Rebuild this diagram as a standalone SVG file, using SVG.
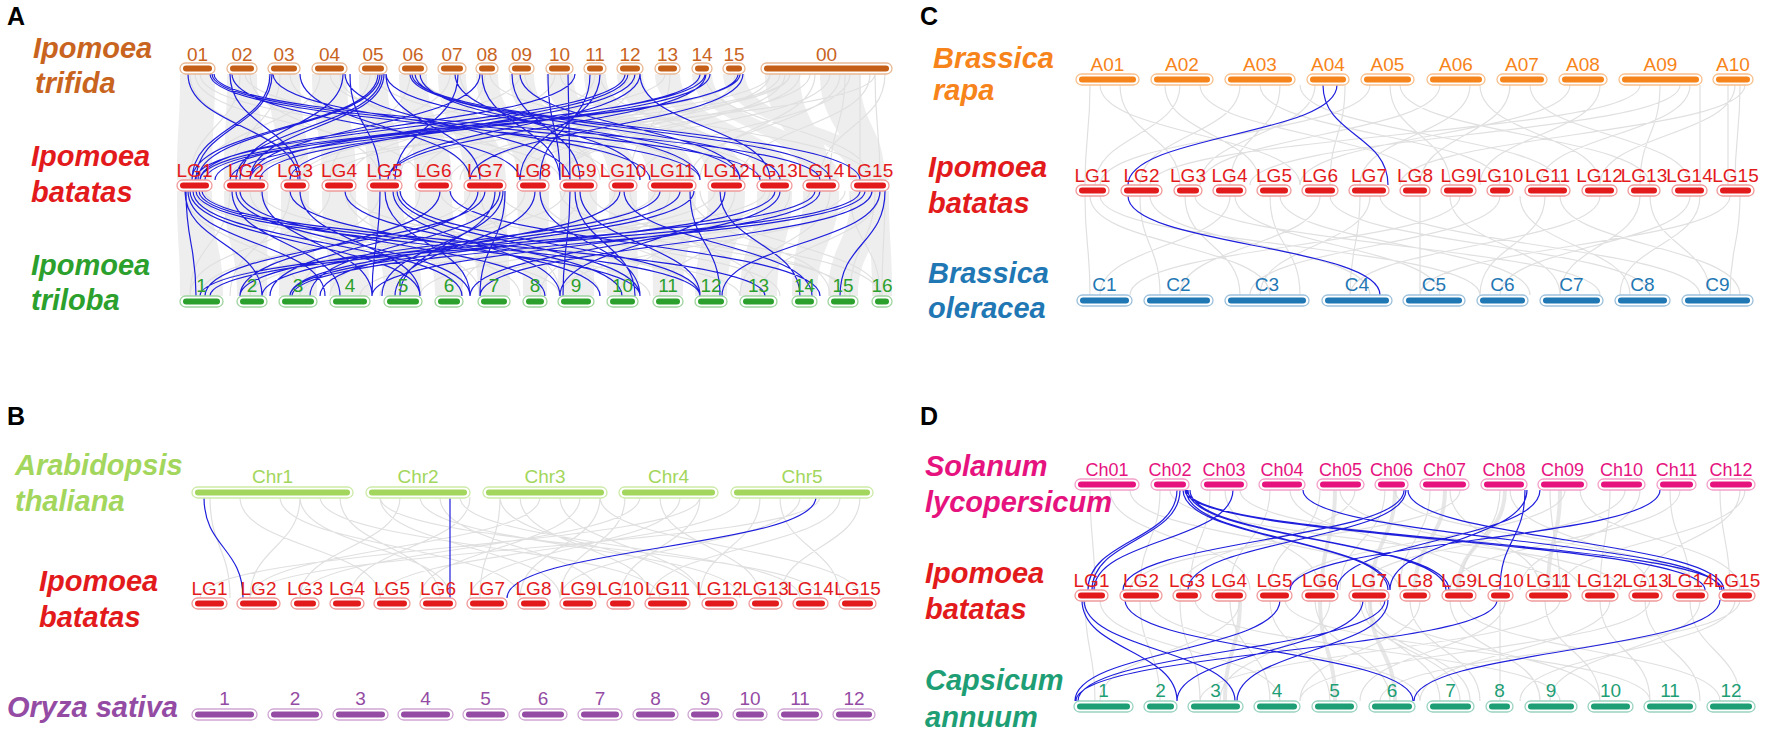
<svg xmlns="http://www.w3.org/2000/svg" width="1772" height="740" viewBox="0 0 1772 740">
<style>
.sp{font-family:"Liberation Sans",Arial,sans-serif;font-size:29px;font-weight:bold;font-style:italic}
.lb{font-family:"Liberation Sans",Arial,sans-serif;font-size:19px;text-anchor:middle}
.lc{font-family:"Liberation Sans",Arial,sans-serif;font-size:18px;text-anchor:middle}
.ttl{font-family:"Liberation Sans",Arial,sans-serif;font-size:25px;font-weight:bold;fill:#000}
.gl{fill:none;stroke:#E0E0E0;stroke-width:1.2}
.gt{fill:none;stroke:#DDDDDD;stroke-width:4;opacity:.7}
.rb{fill:#EEEEEE;stroke:none}
.bl{fill:none;stroke:#1E1EDC;stroke-width:1.2}
.o{fill:#fff;stroke-width:1.3}
.ot{stroke:#E9B893}.it{fill:#C55F17}.ct{fill:#C8641E}
.ob{stroke:#F09A9B}.ib{fill:#E31A1C}.cb{fill:#E31A1C}
.ol{stroke:#9FD49F}.il{fill:#2CA02C}.cl{fill:#2CA02C}
.or{stroke:#F9C08C}.ir{fill:#F7841A}.cr{fill:#F7841A}
.oe{stroke:#9DC1DC}.ie{fill:#1F77B4}.ce{fill:#1F77B4}
.oa{stroke:#CDEBA8}.ia{fill:#A3D65C}.ca{fill:#A3D65C}
.oy{stroke:#CFA6D3}.iy{fill:#944BA3}.cy{fill:#944BA3}
.os{stroke:#F2A0C8}.is{fill:#E6137F}.cs{fill:#E6137F}
.oc{stroke:#9AD3C0}.ic{fill:#1E9E74}.cc{fill:#1E9E74}
</style>
<rect width="1772" height="740" fill="#fff"/>

<g id="connectors">
<!-- Panel A gray ribbons top -->
<path class="rb" d="M180 74C180 127 177 127 177 180L212 180C212 127 215 127 215 74Z M227 74C227 127 224 127 224 180L268 180C268 127 257 127 257 74Z M268 74C268 127 281 127 281 180L309 180C309 127 300 127 300 74Z M312 74C312 127 322 127 322 180L356 180C356 127 347 127 347 74Z M359 74C359 127 367 127 367 180L402 180C402 127 387 127 387 74Z M399 74C399 127 415 127 415 180L452 180C452 127 427 127 427 74Z M438 74C438 127 464 127 464 180L506 180C506 127 466 127 466 74Z M476 74C476 127 517 127 517 180L549 180C549 127 498 127 498 74Z M509 74C509 127 560 127 560 180L597 180C597 127 534 127 534 74Z M546 74C546 127 609 127 609 180L637 180C637 127 573 127 573 74Z M584 74C584 127 648 127 648 180L696 180C696 127 606 127 606 74Z M617 74C617 127 708 127 708 180L745 180C745 127 643 127 643 74Z M655 74C655 127 757 127 757 180L792 180C792 127 680 127 680 74Z M692 74C692 127 803 127 803 180L839 180C839 127 712 127 712 74Z M723 74C723 127 851 127 851 180L889 180C889 127 745 127 745 74Z M765 74C765 127 800 127 800 180L830 180C830 127 800 127 800 74Z M820 74C820 127 850 127 850 180L885 180C885 127 860 127 860 74Z"/>
<path class="rb" d="M177 191C177 243.5 180 243.5 180 296L223 296C223 243.5 212 243.5 212 191Z M224 191C224 243.5 237 243.5 237 296L267 296C267 243.5 268 243.5 268 191Z M281 191C281 243.5 279 243.5 279 296L317 296C317 243.5 309 243.5 309 191Z M322 191C322 243.5 330 243.5 330 296L370 296C370 243.5 356 243.5 356 191Z M367 191C367 243.5 384 243.5 384 296L422 296C422 243.5 402 243.5 402 191Z M415 191C415 243.5 435 243.5 435 296L463 296C463 243.5 452 243.5 452 191Z M464 191C464 243.5 478 243.5 478 296L510 296C510 243.5 506 243.5 506 191Z M517 191C517 243.5 523 243.5 523 296L547 296C547 243.5 549 243.5 549 191Z M560 191C560 243.5 558 243.5 558 296L594 296C594 243.5 597 243.5 597 191Z M609 191C609 243.5 607 243.5 607 296L638 296C638 243.5 637 243.5 637 191Z M648 191C648 243.5 653 243.5 653 296L683 296C683 243.5 696 243.5 696 191Z M708 191C708 243.5 695 243.5 695 296L727 296C727 243.5 745 243.5 745 191Z M757 191C757 243.5 740 243.5 740 296L777 296C777 243.5 792 243.5 792 191Z M803 191C803 243.5 792 243.5 792 296L817 296C817 243.5 839 243.5 839 191Z M851 191C851 243.5 828 243.5 828 296L858 296C858 243.5 889 243.5 889 191Z M868 191C868 243.5 872 243.5 872 296L892 296C892 243.5 889 243.5 889 191Z"/>
<!-- Panel A gray lines -->
<path class="gl" d="M190 74C190 127 300 127 300 180M195 74C195 127 420 127 420 180M200 74C200 127 560 127 560 180M240 74C240 127 190 127 190 180M245 74C245 127 650 127 650 180M250 74C250 127 380 127 380 180M280 74C280 127 230 127 230 180M290 74C290 127 470 127 470 180M320 74C320 127 200 127 200 180M330 74C330 127 610 127 610 180M340 74C340 127 530 127 530 180M370 74C370 127 250 127 250 180M375 74C375 127 700 127 700 180M410 74C410 127 330 127 330 180M420 74C420 127 760 127 760 180M450 74C450 127 290 127 290 180M460 74C460 127 600 127 600 180M485 74C485 127 400 127 400 180M490 74C490 127 820 127 820 180M520 74C520 127 230 127 230 180M525 74C525 127 680 127 680 180M555 74C555 127 350 127 350 180M560 74C560 127 870 127 870 180M595 74C595 127 420 127 420 180M600 74C600 127 770 127 770 180M630 74C630 127 300 127 300 180M635 74C635 127 520 127 520 180M665 74C665 127 200 127 200 180M670 74C670 127 630 127 630 180M700 74C700 127 460 127 460 180M705 74C705 127 870 127 870 180M735 74C735 127 560 127 560 180M740 74C740 127 250 127 250 180M770 74C770 127 200 127 200 180M790 74C790 127 330 127 330 180M810 74C810 127 450 127 450 180M830 74C830 127 560 127 560 180M850 74C850 127 640 127 640 180M870 74C870 127 740 127 740 180M885 74C885 127 820 127 820 180M780 74C780 127 390 127 390 180M800 74C800 127 520 127 520 180M840 74C840 127 690 127 690 180M860 74C860 127 860 127 860 180M875 74C875 127 300 127 300 180M770 74C770 127 470 127 470 180M785 74C785 127 560 127 560 180M815 74C815 127 700 127 700 180M845 74C845 127 830 127 830 180M875 74C875 127 880 127 880 180M790 74C790 127 250 127 250 180"/>
<path class="gl" d="M185 191C185 243.5 300 243.5 300 296M195 191C195 243.5 560 243.5 560 296M205 191C205 243.5 740 243.5 740 296M230 191C230 243.5 190 243.5 190 296M250 191C250 243.5 420 243.5 420 296M260 191C260 243.5 650 243.5 650 296M290 191C290 243.5 230 243.5 230 296M300 191C300 243.5 520 243.5 520 296M330 191C330 243.5 190 243.5 190 296M345 191C345 243.5 480 243.5 480 296M350 191C350 243.5 700 243.5 700 296M380 191C380 243.5 250 243.5 250 296M395 191C395 243.5 600 243.5 600 296M420 191C420 243.5 300 243.5 300 296M440 191C440 243.5 780 243.5 780 296M470 191C470 243.5 200 243.5 200 296M480 191C480 243.5 560 243.5 560 296M500 191C500 243.5 850 243.5 850 296M525 191C525 243.5 330 243.5 330 296M540 191C540 243.5 700 243.5 700 296M565 191C565 243.5 240 243.5 240 296M580 191C580 243.5 460 243.5 460 296M590 191C590 243.5 880 243.5 880 296M615 191C615 243.5 380 243.5 380 296M630 191C630 243.5 760 243.5 760 296M655 191C655 243.5 250 243.5 250 296M670 191C670 243.5 540 243.5 540 296M690 191C690 243.5 830 243.5 830 296M715 191C715 243.5 300 243.5 300 296M735 191C735 243.5 620 243.5 620 296M765 191C765 243.5 200 243.5 200 296M770 191C770 243.5 480 243.5 480 296M790 191C790 243.5 660 243.5 660 296M810 191C810 243.5 360 243.5 360 296M830 191C830 243.5 740 243.5 740 296M850 191C850 243.5 880 243.5 880 296M860 191C860 243.5 560 243.5 560 296M875 191C875 243.5 850 243.5 850 296M885 191C885 243.5 882 243.5 882 296M880 191C880 243.5 760 243.5 760 296M845 191C845 243.5 420 243.5 420 296M700 191C700 243.5 880 243.5 880 296M560 191C560 243.5 845 243.5 845 296"/>
<!-- Panel C gray -->
<path class="gl" d="M1090 85C1090 135 1085 135 1085 185M1100 85C1100 135 1300 135 1300 185M1120 85C1120 135 1180 135 1180 185M1165 85C1165 135 1260 135 1260 185M1180 85C1180 135 1095 135 1095 185M1200 85C1200 135 1420 135 1420 185M1240 85C1240 135 1140 135 1140 185M1260 85C1260 135 1500 135 1500 185M1280 85C1280 135 1230 135 1230 185M1300 85C1300 135 1560 135 1560 185M1315 85C1315 135 1200 135 1200 185M1345 85C1345 135 1330 135 1330 185M1370 85C1370 135 1100 135 1100 185M1390 85C1390 135 1450 135 1450 185M1400 85C1400 135 1650 135 1650 185M1440 85C1440 135 1200 135 1200 185M1470 85C1470 135 1360 135 1360 185M1480 85C1480 135 1600 135 1600 185M1510 85C1510 135 1420 135 1420 185M1530 85C1530 135 1690 135 1690 185M1570 85C1570 135 1300 135 1300 185M1600 85C1600 135 1480 135 1480 185M1640 85C1640 135 1150 135 1150 185M1660 85C1660 135 1640 135 1640 185M1680 85C1680 135 1250 135 1250 185M1690 85C1690 135 1540 135 1540 185M1700 85C1700 135 1700 135 1700 185M1735 85C1735 135 1600 135 1600 185M1740 85C1740 135 1735 135 1735 185M1745 85C1745 135 1400 135 1400 185M1728 85L1728 185"/>
<path class="gl" d="M1085 196C1085 245.5 1090 245.5 1090 295M1090 196C1090 245.5 1270 245.5 1270 295M1100 196C1100 245.5 1480 245.5 1480 295M1140 196C1140 245.5 1160 245.5 1160 295M1150 196C1150 245.5 1370 245.5 1370 295M1185 196C1185 245.5 1240 245.5 1240 295M1195 196C1195 245.5 1600 245.5 1600 295M1230 196C1230 245.5 1100 245.5 1100 295M1235 196C1235 245.5 1440 245.5 1440 295M1270 196C1270 245.5 1300 245.5 1300 295M1280 196C1280 245.5 1530 245.5 1530 295M1320 196C1320 245.5 1180 245.5 1180 295M1330 196C1330 245.5 1650 245.5 1650 295M1360 196C1360 245.5 1350 245.5 1350 295M1370 196C1370 245.5 1260 245.5 1260 295M1380 196C1380 245.5 1700 245.5 1700 295M1420 196C1420 245.5 1420 245.5 1420 295M1450 196C1450 245.5 1560 245.5 1560 295M1460 196C1460 245.5 1130 245.5 1130 295M1500 196C1500 245.5 1250 245.5 1250 295M1520 196C1520 245.5 1630 245.5 1630 295M1545 196C1545 245.5 1480 245.5 1480 295M1560 196C1560 245.5 1740 245.5 1740 295M1600 196C1600 245.5 1350 245.5 1350 295M1640 196C1640 245.5 1560 245.5 1560 295M1650 196C1650 245.5 1710 245.5 1710 295M1690 196C1690 245.5 1500 245.5 1500 295M1700 196C1700 245.5 1620 245.5 1620 295M1730 196C1730 245.5 1420 245.5 1420 295M1740 196C1740 245.5 1730 245.5 1730 295"/>
<!-- Panel B gray -->
<path class="gl" d="M210 497C210 547.5 230 547.5 230 598M240 497C240 547.5 380 547.5 380 598M280 497C280 547.5 520 547.5 520 598M300 497C300 547.5 250 547.5 250 598M320 497C320 547.5 660 547.5 660 598M340 497C340 547.5 440 547.5 440 598M380 497C380 547.5 560 547.5 560 598M400 497C400 547.5 300 547.5 300 598M420 497C420 547.5 740 547.5 740 598M440 497C440 547.5 600 547.5 600 598M460 497C460 547.5 800 547.5 800 598M470 497C470 547.5 350 547.5 350 598M500 497C500 547.5 480 547.5 480 598M520 497C520 547.5 650 547.5 650 598M540 497C540 547.5 250 547.5 250 598M560 497C560 547.5 700 547.5 700 598M580 497C580 547.5 420 547.5 420 598M600 497C600 547.5 860 547.5 860 598M625 497C625 547.5 560 547.5 560 598M640 497C640 547.5 300 547.5 300 598M660 497C660 547.5 760 547.5 760 598M680 497C680 547.5 470 547.5 470 598M700 497C700 547.5 620 547.5 620 598M740 497C740 547.5 380 547.5 380 598M760 497C760 547.5 700 547.5 700 598M780 497C780 547.5 840 547.5 840 598M800 497C800 547.5 560 547.5 560 598M820 497C820 547.5 250 547.5 250 598M840 497C840 547.5 650 547.5 650 598M860 497C860 547.5 780 547.5 780 598M600 497C600 547.5 520 547.5 520 598M500 497C500 547.5 700 547.5 700 598M380 497C380 547.5 820 547.5 820 598M300 497C300 547.5 450 547.5 450 598M700 497C700 547.5 200 547.5 200 598"/>
<!-- Panel D gray -->
<path class="gl" d="M1090 490C1090 540 1095 540 1095 590M1110 490C1110 540 1250 540 1250 590M1130 490C1130 540 1400 540 1400 590M1160 490C1160 540 1140 540 1140 590M1170 490C1170 540 1560 540 1560 590M1210 490C1210 540 1190 540 1190 590M1225 490C1225 540 1320 540 1320 590M1240 490C1240 540 1620 540 1620 590M1270 490C1270 540 1230 540 1230 590M1290 490C1290 540 1480 540 1480 590M1320 490C1320 540 1270 540 1270 590M1340 490C1340 540 1580 540 1580 590M1355 490C1355 540 1180 540 1180 590M1385 490C1385 540 1340 540 1340 590M1395 490C1395 540 1700 540 1700 590M1430 490C1430 540 1400 540 1400 590M1450 490C1450 540 1540 540 1540 590M1460 490C1460 540 1130 540 1130 590M1500 490C1500 540 1460 540 1460 590M1510 490C1510 540 1650 540 1650 590M1550 490C1550 540 1560 540 1560 590M1565 490C1565 540 1290 540 1290 590M1580 490C1580 540 1740 540 1740 590M1610 490C1610 540 1600 540 1600 590M1625 490C1625 540 1360 540 1360 590M1640 490C1640 540 1520 540 1520 590M1670 490C1670 540 1690 540 1690 590M1680 490C1680 540 1450 540 1450 590M1720 490C1720 540 1730 540 1730 590M1740 490C1740 540 1640 540 1640 590M1745 490C1745 540 1560 540 1560 590"/>
<path class="gt" d="M1335 490C1335 540 1322 540 1322 590M1395 490C1395 540 1372 540 1372 590M1445 490C1445 540 1415 540 1415 590M1505 490C1505 540 1458 540 1458 590M1560 490C1560 540 1548 540 1548 590"/>
<path class="gl" d="M1085 600C1085 650.5 1095 650.5 1095 701M1100 600C1100 650.5 1280 650.5 1280 701M1140 600C1140 650.5 1160 650.5 1160 701M1150 600C1150 650.5 1420 650.5 1420 701M1180 600C1180 650.5 1200 650.5 1200 701M1195 600C1195 650.5 1560 650.5 1560 701M1230 600C1230 650.5 1270 650.5 1270 701M1240 600C1240 650.5 1100 650.5 1100 701M1270 600C1270 650.5 1330 650.5 1330 701M1285 600C1285 650.5 1650 650.5 1650 701M1315 600C1315 650.5 1390 650.5 1390 701M1330 600C1330 650.5 1220 650.5 1220 701M1370 600C1370 650.5 1440 650.5 1440 701M1380 600C1380 650.5 1600 650.5 1600 701M1410 600C1410 650.5 1480 650.5 1480 701M1420 600C1420 650.5 1300 650.5 1300 701M1450 600C1450 650.5 1540 650.5 1540 701M1460 600C1460 650.5 1720 650.5 1720 701M1500 600C1500 650.5 1500 650.5 1500 701M1505 600C1505 650.5 1360 650.5 1360 701M1545 600C1545 650.5 1600 650.5 1600 701M1560 600C1560 650.5 1200 650.5 1200 701M1600 600C1600 650.5 1650 650.5 1650 701M1610 600C1610 650.5 1420 650.5 1420 701M1645 600C1645 650.5 1700 650.5 1700 701M1650 600C1650 650.5 1300 650.5 1300 701M1690 600C1690 650.5 1740 650.5 1740 701M1700 600C1700 650.5 1550 650.5 1550 701M1735 600C1735 650.5 1520 650.5 1520 701M1740 600C1740 650.5 1380 650.5 1380 701M1360 600C1360 650.5 1460 650.5 1460 701M1365 600C1365 650.5 1470 650.5 1470 701"/>
<path class="gt" d="M1240 600C1240 650.5 1225 650.5 1225 701M1320 600C1320 650.5 1335 650.5 1335 701M1370 600C1370 650.5 1395 650.5 1395 701"/>

<!-- Panel A blue -->
<path class="bl" d="M188 74C188 127 298 127 298 180M210 74C210 127 700 127 700 180M212 74C212 127 760 127 760 180M214 74C214 127 820 127 820 180M230 74C230 127 300 127 300 180M232 74C232 127 520 127 520 180M270 74C270 127 192 127 192 180M272 74C272 127 196 127 196 180M273 74C273 127 650 127 650 180M300 74C300 127 470 127 470 180M343 74C343 127 240 127 240 180M345 74C345 127 570 127 570 180M350 74C350 127 380 127 380 180M378 74C378 127 192 127 192 180M380 74C380 127 198 127 198 180M382 74C382 127 236 127 236 180M384 74C384 127 250 127 250 180M386 74C386 127 480 127 480 180M386 74C386 127 740 127 740 180M410 74C410 127 830 127 830 180M412 74C412 127 860 127 860 180M415 74C415 127 780 127 780 180M420 74C420 127 700 127 700 180M455 74C455 127 640 127 640 180M458 74C458 127 395 127 395 180M480 74C480 127 250 127 250 180M482 74C482 127 560 127 560 180M512 74C512 127 580 127 580 180M520 74C520 127 740 127 740 180M548 74C548 127 560 127 560 180M568 74L570 180M575 74C575 127 200 127 200 180M590 74C590 127 540 127 540 180M600 74C600 127 520 127 520 180M625 74C625 127 195 127 195 180M628 74C628 127 250 127 250 180M635 74C635 127 290 127 290 180M640 74C640 127 770 127 770 180M640 74C640 127 388 127 388 180M700 74C700 127 215 127 215 180M705 74C705 127 200 127 200 180M706 74C706 127 388 127 388 180M710 74C710 127 260 127 260 180M738 74C738 127 230 127 230 180M740 74C740 127 205 127 205 180M743 74C743 127 470 127 470 180"/>
<path class="bl" d="M185 191C185 243.5 262 243.5 262 296M188 191C188 243.5 325 243.5 325 296M190 191C190 243.5 420 243.5 420 296M193 191C193 243.5 462 243.5 462 296M196 191C196 243.5 640 243.5 640 296M199 191C199 243.5 700 243.5 700 296M202 191C202 243.5 765 243.5 765 296M186 191C186 243.5 196 243.5 196 296M232 191C232 243.5 340 243.5 340 296M236 191C236 243.5 470 243.5 470 296M240 191C240 243.5 545 243.5 545 296M262 191C262 243.5 372 243.5 372 296M290 191C290 243.5 600 243.5 600 296M300 191C300 243.5 420 243.5 420 296M345 191C345 243.5 622 243.5 622 296M380 191C380 243.5 372 243.5 372 296M385 191C385 243.5 470 243.5 470 296M393 191C393 243.5 560 243.5 560 296M397 191C397 243.5 640 243.5 640 296M400 191C400 243.5 700 243.5 700 296M440 191C440 243.5 240 243.5 240 296M450 191C450 243.5 820 243.5 820 296M478 191C478 243.5 270 243.5 270 296M485 191C485 243.5 205 243.5 205 296M495 191C495 243.5 400 243.5 400 296M500 191C500 243.5 310 243.5 310 296M503 191C503 243.5 382 243.5 382 296M505 191C505 243.5 480 243.5 480 296M535 191C535 243.5 395 243.5 395 296M540 191C540 243.5 640 243.5 640 296M570 191C570 243.5 563 243.5 563 296M575 191C575 243.5 635 243.5 635 296M580 191C580 243.5 700 243.5 700 296M620 191C620 243.5 320 243.5 320 296M624 191C624 243.5 812 243.5 812 296M660 191C660 243.5 240 243.5 240 296M680 191C680 243.5 262 243.5 262 296M690 191C690 243.5 720 243.5 720 296M694 191C694 243.5 290 243.5 290 296M720 191C720 243.5 800 243.5 800 296M725 191C725 243.5 560 243.5 560 296M775 191C775 243.5 290 243.5 290 296M780 191C780 243.5 470 243.5 470 296M815 191C815 243.5 200 243.5 200 296M820 191C820 243.5 372 243.5 372 296M860 191C860 243.5 210 243.5 210 296M865 191C865 243.5 292 243.5 292 296M872 191C872 243.5 480 243.5 480 296M880 191C880 243.5 722 243.5 722 296M885 191C885 243.5 840 243.5 840 296"/>
<!-- Panel C blue -->
<path class="bl" d="M1337 85C1337 135 1128 135 1128 185M1323 85C1323 135 1388 135 1388 185M1128 196C1128 245.5 1380 245.5 1380 295"/>
<!-- Panel B blue -->
<path class="bl" d="M204 497C204 547.5 243 547.5 243 598M450 497L450 598M816 497C816 547.5 507 547.5 507 598"/>
<!-- Panel D blue -->
<path class="bl" d="M1177 490C1177 540 1088 540 1088 590M1180 490C1180 540 1092 540 1092 590M1233 490C1233 540 1094 540 1094 590M1183 490C1183 540 1388 540 1388 590M1186 490C1186 540 1390 540 1390 590M1188 490C1188 540 1446 540 1446 590M1190 490C1190 540 1449 540 1449 590M1185 490C1185 540 1705 540 1705 590M1187 490C1187 540 1722 540 1722 590M1303 490C1303 540 1720 540 1720 590M1404 490C1404 540 1123 540 1123 590M1406 490C1406 540 1188 540 1188 590M1408 490C1408 540 1724 540 1724 590M1527 490C1527 540 1390 540 1390 590M1525 490C1525 540 1500 540 1500 590M1540 490C1540 540 1337 540 1337 590M1660 490C1660 540 1290 540 1290 590"/>
<path class="bl" d="M1082 600C1082 650.5 1177 650.5 1177 701M1084 600C1084 650.5 1235 650.5 1235 701M1125 600C1125 650.5 1413 650.5 1413 701M1280 600C1280 650.5 1075 650.5 1075 701M1363 600C1363 650.5 1177 650.5 1177 701M1388 600C1388 650.5 1237 650.5 1237 701M1385 600C1385 650.5 1078 650.5 1078 701M1497 600C1497 650.5 1076 650.5 1076 701M1720 600C1720 650.5 1414 650.5 1414 701"/>
</g>

<!-- Titles and species labels -->
<g id="titles">
<text class="ttl" x="7" y="25">A</text>
<text class="ttl" x="920" y="25">C</text>
<text class="ttl" x="7" y="425">B</text>
<text class="ttl" x="920" y="425">D</text>
</g>
<g id="species">
<text class="sp" fill="#C8641E" x="33" y="58">Ipomoea</text>
<text class="sp" fill="#C8641E" x="35" y="93">trifida</text>
<text class="sp" fill="#E31A1C" x="31" y="166">Ipomoea</text>
<text class="sp" fill="#E31A1C" x="31" y="202">batatas</text>
<text class="sp" fill="#2CA02C" x="31" y="275">Ipomoea</text>
<text class="sp" fill="#2CA02C" x="31" y="310">triloba</text>
<text class="sp" fill="#F7841A" x="933" y="68">Brassica</text>
<text class="sp" fill="#F7841A" x="933" y="100">rapa</text>
<text class="sp" fill="#E31A1C" x="928" y="177">Ipomoea</text>
<text class="sp" fill="#E31A1C" x="928" y="213">batatas</text>
<text class="sp" fill="#1F77B4" x="928" y="283">Brassica</text>
<text class="sp" fill="#1F77B4" x="928" y="318">oleracea</text>
<text class="sp" fill="#A3D65C" x="15" y="475">Arabidopsis</text>
<text class="sp" fill="#A3D65C" x="15" y="511">thaliana</text>
<text class="sp" fill="#E31A1C" x="39" y="591">Ipomoea</text>
<text class="sp" fill="#E31A1C" x="39" y="627">batatas</text>
<text class="sp" fill="#944BA3" x="7" y="717">Oryza sativa</text>
<text class="sp" fill="#E6137F" x="925" y="476">Solanum</text>
<text class="sp" fill="#E6137F" x="925" y="512">lycopersicum</text>
<text class="sp" fill="#E31A1C" x="925" y="583">Ipomoea</text>
<text class="sp" fill="#E31A1C" x="925" y="619">batatas</text>
<text class="sp" fill="#1E9E74" x="925" y="690">Capsicum</text>
<text class="sp" fill="#1E9E74" x="925" y="727">annuum</text>
</g>

<!-- Panel A: trifida -->
<g id="A-tf-01"><rect class="o ot" x="180" y="63" width="35" height="11" rx="5.5"/><rect class="it" x="183" y="65.5" width="29" height="6" rx="3"/><text class="lb ct" x="197.5" y="61">01</text></g>
<g id="A-tf-02"><rect class="o ot" x="227" y="63" width="30" height="11" rx="5.5"/><rect class="it" x="230" y="65.5" width="24" height="6" rx="3"/><text class="lb ct" x="242" y="61">02</text></g>
<g id="A-tf-03"><rect class="o ot" x="268" y="63" width="32" height="11" rx="5.5"/><rect class="it" x="271" y="65.5" width="26" height="6" rx="3"/><text class="lb ct" x="284" y="61">03</text></g>
<g id="A-tf-04"><rect class="o ot" x="312" y="63" width="35" height="11" rx="5.5"/><rect class="it" x="315" y="65.5" width="29" height="6" rx="3"/><text class="lb ct" x="329.5" y="61">04</text></g>
<g id="A-tf-05"><rect class="o ot" x="359" y="63" width="28" height="11" rx="5.5"/><rect class="it" x="362" y="65.5" width="22" height="6" rx="3"/><text class="lb ct" x="373" y="61">05</text></g>
<g id="A-tf-06"><rect class="o ot" x="399" y="63" width="28" height="11" rx="5.5"/><rect class="it" x="402" y="65.5" width="22" height="6" rx="3"/><text class="lb ct" x="413" y="61">06</text></g>
<g id="A-tf-07"><rect class="o ot" x="438" y="63" width="28" height="11" rx="5.5"/><rect class="it" x="441" y="65.5" width="22" height="6" rx="3"/><text class="lb ct" x="452" y="61">07</text></g>
<g id="A-tf-08"><rect class="o ot" x="476" y="63" width="22" height="11" rx="5.5"/><rect class="it" x="479" y="65.5" width="16" height="6" rx="3"/><text class="lb ct" x="487" y="61">08</text></g>
<g id="A-tf-09"><rect class="o ot" x="509" y="63" width="25" height="11" rx="5.5"/><rect class="it" x="512" y="65.5" width="19" height="6" rx="3"/><text class="lb ct" x="521.5" y="61">09</text></g>
<g id="A-tf-10"><rect class="o ot" x="546" y="63" width="27" height="11" rx="5.5"/><rect class="it" x="549" y="65.5" width="21" height="6" rx="3"/><text class="lb ct" x="559.5" y="61">10</text></g>
<g id="A-tf-11"><rect class="o ot" x="584" y="63" width="22" height="11" rx="5.5"/><rect class="it" x="587" y="65.5" width="16" height="6" rx="3"/><text class="lb ct" x="595" y="61">11</text></g>
<g id="A-tf-12"><rect class="o ot" x="617" y="63" width="26" height="11" rx="5.5"/><rect class="it" x="620" y="65.5" width="20" height="6" rx="3"/><text class="lb ct" x="630" y="61">12</text></g>
<g id="A-tf-13"><rect class="o ot" x="655" y="63" width="25" height="11" rx="5.5"/><rect class="it" x="658" y="65.5" width="19" height="6" rx="3"/><text class="lb ct" x="667.5" y="61">13</text></g>
<g id="A-tf-14"><rect class="o ot" x="692" y="63" width="20" height="11" rx="5.5"/><rect class="it" x="695" y="65.5" width="14" height="6" rx="3"/><text class="lb ct" x="702" y="61">14</text></g>
<g id="A-tf-15"><rect class="o ot" x="723" y="63" width="22" height="11" rx="5.5"/><rect class="it" x="726" y="65.5" width="16" height="6" rx="3"/><text class="lb ct" x="734" y="61">15</text></g>
<g id="A-tf-00"><rect class="o ot" x="761" y="63" width="131" height="11" rx="5.5"/><rect class="it" x="764" y="65.5" width="125" height="6" rx="3"/><text class="lb ct" x="826.5" y="61">00</text></g>

<!-- Panel A: batatas -->
<g id="A-bt-LG1"><rect class="o ob" x="177" y="180" width="35" height="11" rx="5.5"/><rect class="ib" x="180" y="182.5" width="29" height="6" rx="3"/><text class="lb cb" x="194.5" y="177">LG1</text></g>
<g id="A-bt-LG2"><rect class="o ob" x="224" y="180" width="44" height="11" rx="5.5"/><rect class="ib" x="227" y="182.5" width="38" height="6" rx="3"/><text class="lb cb" x="246" y="177">LG2</text></g>
<g id="A-bt-LG3"><rect class="o ob" x="281" y="180" width="28" height="11" rx="5.5"/><rect class="ib" x="284" y="182.5" width="22" height="6" rx="3"/><text class="lb cb" x="295" y="177">LG3</text></g>
<g id="A-bt-LG4"><rect class="o ob" x="322" y="180" width="34" height="11" rx="5.5"/><rect class="ib" x="325" y="182.5" width="28" height="6" rx="3"/><text class="lb cb" x="339" y="177">LG4</text></g>
<g id="A-bt-LG5"><rect class="o ob" x="367" y="180" width="35" height="11" rx="5.5"/><rect class="ib" x="370" y="182.5" width="29" height="6" rx="3"/><text class="lb cb" x="384.5" y="177">LG5</text></g>
<g id="A-bt-LG6"><rect class="o ob" x="415" y="180" width="37" height="11" rx="5.5"/><rect class="ib" x="418" y="182.5" width="31" height="6" rx="3"/><text class="lb cb" x="433.5" y="177">LG6</text></g>
<g id="A-bt-LG7"><rect class="o ob" x="464" y="180" width="42" height="11" rx="5.5"/><rect class="ib" x="467" y="182.5" width="36" height="6" rx="3"/><text class="lb cb" x="485" y="177">LG7</text></g>
<g id="A-bt-LG8"><rect class="o ob" x="517" y="180" width="32" height="11" rx="5.5"/><rect class="ib" x="520" y="182.5" width="26" height="6" rx="3"/><text class="lb cb" x="533" y="177">LG8</text></g>
<g id="A-bt-LG9"><rect class="o ob" x="560" y="180" width="37" height="11" rx="5.5"/><rect class="ib" x="563" y="182.5" width="31" height="6" rx="3"/><text class="lb cb" x="578.5" y="177">LG9</text></g>
<g id="A-bt-LG10"><rect class="o ob" x="609" y="180" width="28" height="11" rx="5.5"/><rect class="ib" x="612" y="182.5" width="22" height="6" rx="3"/><text class="lb cb" x="623" y="177">LG10</text></g>
<g id="A-bt-LG11"><rect class="o ob" x="648" y="180" width="48" height="11" rx="5.5"/><rect class="ib" x="651" y="182.5" width="42" height="6" rx="3"/><text class="lb cb" x="672" y="177">LG11</text></g>
<g id="A-bt-LG12"><rect class="o ob" x="708" y="180" width="37" height="11" rx="5.5"/><rect class="ib" x="711" y="182.5" width="31" height="6" rx="3"/><text class="lb cb" x="726.5" y="177">LG12</text></g>
<g id="A-bt-LG13"><rect class="o ob" x="757" y="180" width="35" height="11" rx="5.5"/><rect class="ib" x="760" y="182.5" width="29" height="6" rx="3"/><text class="lb cb" x="774.5" y="177">LG13</text></g>
<g id="A-bt-LG14"><rect class="o ob" x="803" y="180" width="36" height="11" rx="5.5"/><rect class="ib" x="806" y="182.5" width="30" height="6" rx="3"/><text class="lb cb" x="821" y="177">LG14</text></g>
<g id="A-bt-LG15"><rect class="o ob" x="851" y="180" width="38" height="11" rx="5.5"/><rect class="ib" x="854" y="182.5" width="32" height="6" rx="3"/><text class="lb cb" x="870" y="177">LG15</text></g>

<!-- Panel A: triloba -->
<g id="A-tl-1"><rect class="o ol" x="180" y="296" width="43" height="11" rx="5.5"/><rect class="il" x="183" y="298.5" width="37" height="6" rx="3"/><text class="lb cl" x="201.5" y="292">1</text></g>
<g id="A-tl-2"><rect class="o ol" x="237" y="296" width="30" height="11" rx="5.5"/><rect class="il" x="240" y="298.5" width="24" height="6" rx="3"/><text class="lb cl" x="252" y="292">2</text></g>
<g id="A-tl-3"><rect class="o ol" x="279" y="296" width="38" height="11" rx="5.5"/><rect class="il" x="282" y="298.5" width="32" height="6" rx="3"/><text class="lb cl" x="298" y="292">3</text></g>
<g id="A-tl-4"><rect class="o ol" x="330" y="296" width="40" height="11" rx="5.5"/><rect class="il" x="333" y="298.5" width="34" height="6" rx="3"/><text class="lb cl" x="350" y="292">4</text></g>
<g id="A-tl-5"><rect class="o ol" x="384" y="296" width="38" height="11" rx="5.5"/><rect class="il" x="387" y="298.5" width="32" height="6" rx="3"/><text class="lb cl" x="403" y="292">5</text></g>
<g id="A-tl-6"><rect class="o ol" x="435" y="296" width="28" height="11" rx="5.5"/><rect class="il" x="438" y="298.5" width="22" height="6" rx="3"/><text class="lb cl" x="449" y="292">6</text></g>
<g id="A-tl-7"><rect class="o ol" x="478" y="296" width="32" height="11" rx="5.5"/><rect class="il" x="481" y="298.5" width="26" height="6" rx="3"/><text class="lb cl" x="494" y="292">7</text></g>
<g id="A-tl-8"><rect class="o ol" x="523" y="296" width="24" height="11" rx="5.5"/><rect class="il" x="526" y="298.5" width="18" height="6" rx="3"/><text class="lb cl" x="535" y="292">8</text></g>
<g id="A-tl-9"><rect class="o ol" x="558" y="296" width="36" height="11" rx="5.5"/><rect class="il" x="561" y="298.5" width="30" height="6" rx="3"/><text class="lb cl" x="576" y="292">9</text></g>
<g id="A-tl-10"><rect class="o ol" x="607" y="296" width="31" height="11" rx="5.5"/><rect class="il" x="610" y="298.5" width="25" height="6" rx="3"/><text class="lb cl" x="622.5" y="292">10</text></g>
<g id="A-tl-11"><rect class="o ol" x="653" y="296" width="30" height="11" rx="5.5"/><rect class="il" x="656" y="298.5" width="24" height="6" rx="3"/><text class="lb cl" x="668" y="292">11</text></g>
<g id="A-tl-12"><rect class="o ol" x="695" y="296" width="32" height="11" rx="5.5"/><rect class="il" x="698" y="298.5" width="26" height="6" rx="3"/><text class="lb cl" x="711" y="292">12</text></g>
<g id="A-tl-13"><rect class="o ol" x="740" y="296" width="37" height="11" rx="5.5"/><rect class="il" x="743" y="298.5" width="31" height="6" rx="3"/><text class="lb cl" x="758.5" y="292">13</text></g>
<g id="A-tl-14"><rect class="o ol" x="792" y="296" width="25" height="11" rx="5.5"/><rect class="il" x="795" y="298.5" width="19" height="6" rx="3"/><text class="lb cl" x="804.5" y="292">14</text></g>
<g id="A-tl-15"><rect class="o ol" x="828" y="296" width="30" height="11" rx="5.5"/><rect class="il" x="831" y="298.5" width="24" height="6" rx="3"/><text class="lb cl" x="843" y="292">15</text></g>
<g id="A-tl-16"><rect class="o ol" x="872" y="296" width="20" height="11" rx="5.5"/><rect class="il" x="875" y="298.5" width="14" height="6" rx="3"/><text class="lb cl" x="882" y="292">16</text></g>

<!-- Panel C: rapa -->
<g id="C-br-A01"><rect class="o or" x="1076" y="74" width="63" height="11" rx="5.5"/><rect class="ir" x="1079" y="76.5" width="57" height="6" rx="3"/><text class="lb cr" x="1107.5" y="71">A01</text></g>
<g id="C-br-A02"><rect class="o or" x="1151" y="74" width="62" height="11" rx="5.5"/><rect class="ir" x="1154" y="76.5" width="56" height="6" rx="3"/><text class="lb cr" x="1182" y="71">A02</text></g>
<g id="C-br-A03"><rect class="o or" x="1225" y="74" width="70" height="11" rx="5.5"/><rect class="ir" x="1228" y="76.5" width="64" height="6" rx="3"/><text class="lb cr" x="1260" y="71">A03</text></g>
<g id="C-br-A04"><rect class="o or" x="1307" y="74" width="42" height="11" rx="5.5"/><rect class="ir" x="1310" y="76.5" width="36" height="6" rx="3"/><text class="lb cr" x="1328" y="71">A04</text></g>
<g id="C-br-A05"><rect class="o or" x="1361" y="74" width="53" height="11" rx="5.5"/><rect class="ir" x="1364" y="76.5" width="47" height="6" rx="3"/><text class="lb cr" x="1387.5" y="71">A05</text></g>
<g id="C-br-A06"><rect class="o or" x="1427" y="74" width="58" height="11" rx="5.5"/><rect class="ir" x="1430" y="76.5" width="52" height="6" rx="3"/><text class="lb cr" x="1456" y="71">A06</text></g>
<g id="C-br-A07"><rect class="o or" x="1497" y="74" width="50" height="11" rx="5.5"/><rect class="ir" x="1500" y="76.5" width="44" height="6" rx="3"/><text class="lb cr" x="1522" y="71">A07</text></g>
<g id="C-br-A08"><rect class="o or" x="1559" y="74" width="48" height="11" rx="5.5"/><rect class="ir" x="1562" y="76.5" width="42" height="6" rx="3"/><text class="lb cr" x="1583" y="71">A08</text></g>
<g id="C-br-A09"><rect class="o or" x="1619" y="74" width="83" height="11" rx="5.5"/><rect class="ir" x="1622" y="76.5" width="77" height="6" rx="3"/><text class="lb cr" x="1660.5" y="71">A09</text></g>
<g id="C-br-A10"><rect class="o or" x="1713" y="74" width="40" height="11" rx="5.5"/><rect class="ir" x="1716" y="76.5" width="34" height="6" rx="3"/><text class="lb cr" x="1733" y="71">A10</text></g>

<!-- Panel C: batatas -->
<g id="C-bt-LG1"><rect class="o ob" x="1076" y="185" width="33" height="11" rx="5.5"/><rect class="ib" x="1079" y="187.5" width="27" height="6" rx="3"/><text class="lb cb" x="1092.5" y="182">LG1</text></g>
<g id="C-bt-LG2"><rect class="o ob" x="1121" y="185" width="41" height="11" rx="5.5"/><rect class="ib" x="1124" y="187.5" width="35" height="6" rx="3"/><text class="lb cb" x="1141.5" y="182">LG2</text></g>
<g id="C-bt-LG3"><rect class="o ob" x="1174" y="185" width="28" height="11" rx="5.5"/><rect class="ib" x="1177" y="187.5" width="22" height="6" rx="3"/><text class="lb cb" x="1188" y="182">LG3</text></g>
<g id="C-bt-LG4"><rect class="o ob" x="1213" y="185" width="33" height="11" rx="5.5"/><rect class="ib" x="1216" y="187.5" width="27" height="6" rx="3"/><text class="lb cb" x="1229.5" y="182">LG4</text></g>
<g id="C-bt-LG5"><rect class="o ob" x="1257" y="185" width="34" height="11" rx="5.5"/><rect class="ib" x="1260" y="187.5" width="28" height="6" rx="3"/><text class="lb cb" x="1274" y="182">LG5</text></g>
<g id="C-bt-LG6"><rect class="o ob" x="1302" y="185" width="36" height="11" rx="5.5"/><rect class="ib" x="1305" y="187.5" width="30" height="6" rx="3"/><text class="lb cb" x="1320" y="182">LG6</text></g>
<g id="C-bt-LG7"><rect class="o ob" x="1349" y="185" width="40" height="11" rx="5.5"/><rect class="ib" x="1352" y="187.5" width="34" height="6" rx="3"/><text class="lb cb" x="1369" y="182">LG7</text></g>
<g id="C-bt-LG8"><rect class="o ob" x="1400" y="185" width="30" height="11" rx="5.5"/><rect class="ib" x="1403" y="187.5" width="24" height="6" rx="3"/><text class="lb cb" x="1415" y="182">LG8</text></g>
<g id="C-bt-LG9"><rect class="o ob" x="1441" y="185" width="35" height="11" rx="5.5"/><rect class="ib" x="1444" y="187.5" width="29" height="6" rx="3"/><text class="lb cb" x="1458.5" y="182">LG9</text></g>
<g id="C-bt-LG10"><rect class="o ob" x="1487" y="185" width="26" height="11" rx="5.5"/><rect class="ib" x="1490" y="187.5" width="20" height="6" rx="3"/><text class="lb cb" x="1500" y="182">LG10</text></g>
<g id="C-bt-LG11"><rect class="o ob" x="1525" y="185" width="45" height="11" rx="5.5"/><rect class="ib" x="1528" y="187.5" width="39" height="6" rx="3"/><text class="lb cb" x="1547.5" y="182">LG11</text></g>
<g id="C-bt-LG12"><rect class="o ob" x="1582" y="185" width="35" height="11" rx="5.5"/><rect class="ib" x="1585" y="187.5" width="29" height="6" rx="3"/><text class="lb cb" x="1599.5" y="182">LG12</text></g>
<g id="C-bt-LG13"><rect class="o ob" x="1628" y="185" width="32" height="11" rx="5.5"/><rect class="ib" x="1631" y="187.5" width="26" height="6" rx="3"/><text class="lb cb" x="1644" y="182">LG13</text></g>
<g id="C-bt-LG14"><rect class="o ob" x="1672" y="185" width="35" height="11" rx="5.5"/><rect class="ib" x="1675" y="187.5" width="29" height="6" rx="3"/><text class="lb cb" x="1689.5" y="182">LG14</text></g>
<g id="C-bt-LG15"><rect class="o ob" x="1717" y="185" width="37" height="11" rx="5.5"/><rect class="ib" x="1720" y="187.5" width="31" height="6" rx="3"/><text class="lb cb" x="1735.5" y="182">LG15</text></g>

<!-- Panel C: oleracea -->
<g id="C-bo-C1"><rect class="o oe" x="1077" y="295" width="55" height="11" rx="5.5"/><rect class="ie" x="1080" y="297.5" width="49" height="6" rx="3"/><text class="lb ce" x="1104.5" y="291">C1</text></g>
<g id="C-bo-C2"><rect class="o oe" x="1144" y="295" width="69" height="11" rx="5.5"/><rect class="ie" x="1147" y="297.5" width="63" height="6" rx="3"/><text class="lb ce" x="1178.5" y="291">C2</text></g>
<g id="C-bo-C3"><rect class="o oe" x="1225" y="295" width="84" height="11" rx="5.5"/><rect class="ie" x="1228" y="297.5" width="78" height="6" rx="3"/><text class="lb ce" x="1267" y="291">C3</text></g>
<g id="C-bo-C4"><rect class="o oe" x="1322" y="295" width="70" height="11" rx="5.5"/><rect class="ie" x="1325" y="297.5" width="64" height="6" rx="3"/><text class="lb ce" x="1357" y="291">C4</text></g>
<g id="C-bo-C5"><rect class="o oe" x="1403" y="295" width="62" height="11" rx="5.5"/><rect class="ie" x="1406" y="297.5" width="56" height="6" rx="3"/><text class="lb ce" x="1434" y="291">C5</text></g>
<g id="C-bo-C6"><rect class="o oe" x="1477" y="295" width="51" height="11" rx="5.5"/><rect class="ie" x="1480" y="297.5" width="45" height="6" rx="3"/><text class="lb ce" x="1502.5" y="291">C6</text></g>
<g id="C-bo-C7"><rect class="o oe" x="1540" y="295" width="63" height="11" rx="5.5"/><rect class="ie" x="1543" y="297.5" width="57" height="6" rx="3"/><text class="lb ce" x="1571.5" y="291">C7</text></g>
<g id="C-bo-C8"><rect class="o oe" x="1615" y="295" width="55" height="11" rx="5.5"/><rect class="ie" x="1618" y="297.5" width="49" height="6" rx="3"/><text class="lb ce" x="1642.5" y="291">C8</text></g>
<g id="C-bo-C9"><rect class="o oe" x="1682" y="295" width="71" height="11" rx="5.5"/><rect class="ie" x="1685" y="297.5" width="65" height="6" rx="3"/><text class="lb ce" x="1717.5" y="291">C9</text></g>

<!-- Panel B: Arabidopsis -->
<g id="B-at-Chr1"><rect class="o oa" x="192" y="487" width="161" height="11" rx="5.5"/><rect class="ia" x="195" y="489.5" width="155" height="6" rx="3"/><text class="lb ca" x="272.5" y="483">Chr1</text></g>
<g id="B-at-Chr2"><rect class="o oa" x="366" y="487" width="104" height="11" rx="5.5"/><rect class="ia" x="369" y="489.5" width="98" height="6" rx="3"/><text class="lb ca" x="418" y="483">Chr2</text></g>
<g id="B-at-Chr3"><rect class="o oa" x="483" y="487" width="124" height="11" rx="5.5"/><rect class="ia" x="486" y="489.5" width="118" height="6" rx="3"/><text class="lb ca" x="545" y="483">Chr3</text></g>
<g id="B-at-Chr4"><rect class="o oa" x="619" y="487" width="99" height="11" rx="5.5"/><rect class="ia" x="622" y="489.5" width="93" height="6" rx="3"/><text class="lb ca" x="668.5" y="483">Chr4</text></g>
<g id="B-at-Chr5"><rect class="o oa" x="731" y="487" width="142" height="11" rx="5.5"/><rect class="ia" x="734" y="489.5" width="136" height="6" rx="3"/><text class="lb ca" x="802" y="483">Chr5</text></g>

<!-- Panel B: batatas -->
<g id="B-bt-LG1"><rect class="o ob" x="192" y="598" width="35" height="11" rx="5.5"/><rect class="ib" x="195" y="600.5" width="29" height="6" rx="3"/><text class="lb cb" x="209.5" y="595">LG1</text></g>
<g id="B-bt-LG2"><rect class="o ob" x="237" y="598" width="43" height="11" rx="5.5"/><rect class="ib" x="240" y="600.5" width="37" height="6" rx="3"/><text class="lb cb" x="258.5" y="595">LG2</text></g>
<g id="B-bt-LG3"><rect class="o ob" x="291" y="598" width="28" height="11" rx="5.5"/><rect class="ib" x="294" y="600.5" width="22" height="6" rx="3"/><text class="lb cb" x="305" y="595">LG3</text></g>
<g id="B-bt-LG4"><rect class="o ob" x="330" y="598" width="34" height="11" rx="5.5"/><rect class="ib" x="333" y="600.5" width="28" height="6" rx="3"/><text class="lb cb" x="347" y="595">LG4</text></g>
<g id="B-bt-LG5"><rect class="o ob" x="374" y="598" width="36" height="11" rx="5.5"/><rect class="ib" x="377" y="600.5" width="30" height="6" rx="3"/><text class="lb cb" x="392" y="595">LG5</text></g>
<g id="B-bt-LG6"><rect class="o ob" x="420" y="598" width="36" height="11" rx="5.5"/><rect class="ib" x="423" y="600.5" width="30" height="6" rx="3"/><text class="lb cb" x="438" y="595">LG6</text></g>
<g id="B-bt-LG7"><rect class="o ob" x="467" y="598" width="40" height="11" rx="5.5"/><rect class="ib" x="470" y="600.5" width="34" height="6" rx="3"/><text class="lb cb" x="487" y="595">LG7</text></g>
<g id="B-bt-LG8"><rect class="o ob" x="518" y="598" width="31" height="11" rx="5.5"/><rect class="ib" x="521" y="600.5" width="25" height="6" rx="3"/><text class="lb cb" x="533.5" y="595">LG8</text></g>
<g id="B-bt-LG9"><rect class="o ob" x="560" y="598" width="36" height="11" rx="5.5"/><rect class="ib" x="563" y="600.5" width="30" height="6" rx="3"/><text class="lb cb" x="578" y="595">LG9</text></g>
<g id="B-bt-LG10"><rect class="o ob" x="607" y="598" width="27" height="11" rx="5.5"/><rect class="ib" x="610" y="600.5" width="21" height="6" rx="3"/><text class="lb cb" x="620.5" y="595">LG10</text></g>
<g id="B-bt-LG11"><rect class="o ob" x="645" y="598" width="45" height="11" rx="5.5"/><rect class="ib" x="648" y="600.5" width="39" height="6" rx="3"/><text class="lb cb" x="667.5" y="595">LG11</text></g>
<g id="B-bt-LG12"><rect class="o ob" x="702" y="598" width="35" height="11" rx="5.5"/><rect class="ib" x="705" y="600.5" width="29" height="6" rx="3"/><text class="lb cb" x="719.5" y="595">LG12</text></g>
<g id="B-bt-LG13"><rect class="o ob" x="749" y="598" width="33" height="11" rx="5.5"/><rect class="ib" x="752" y="600.5" width="27" height="6" rx="3"/><text class="lb cb" x="765.5" y="595">LG13</text></g>
<g id="B-bt-LG14"><rect class="o ob" x="793" y="598" width="35" height="11" rx="5.5"/><rect class="ib" x="796" y="600.5" width="29" height="6" rx="3"/><text class="lb cb" x="810.5" y="595">LG14</text></g>
<g id="B-bt-LG15"><rect class="o ob" x="839" y="598" width="37" height="11" rx="5.5"/><rect class="ib" x="842" y="600.5" width="31" height="6" rx="3"/><text class="lb cb" x="857.5" y="595">LG15</text></g>

<!-- Panel B: Oryza -->
<g id="B-os-1"><rect class="o oy" x="192" y="709" width="65" height="11" rx="5.5"/><rect class="iy" x="195" y="711.5" width="59" height="6" rx="3"/><text class="lb cy" x="224.5" y="705">1</text></g>
<g id="B-os-2"><rect class="o oy" x="268" y="709" width="54" height="11" rx="5.5"/><rect class="iy" x="271" y="711.5" width="48" height="6" rx="3"/><text class="lb cy" x="295" y="705">2</text></g>
<g id="B-os-3"><rect class="o oy" x="333" y="709" width="55" height="11" rx="5.5"/><rect class="iy" x="336" y="711.5" width="49" height="6" rx="3"/><text class="lb cy" x="360.5" y="705">3</text></g>
<g id="B-os-4"><rect class="o oy" x="398" y="709" width="55" height="11" rx="5.5"/><rect class="iy" x="401" y="711.5" width="49" height="6" rx="3"/><text class="lb cy" x="425.5" y="705">4</text></g>
<g id="B-os-5"><rect class="o oy" x="463" y="709" width="45" height="11" rx="5.5"/><rect class="iy" x="466" y="711.5" width="39" height="6" rx="3"/><text class="lb cy" x="485.5" y="705">5</text></g>
<g id="B-os-6"><rect class="o oy" x="519" y="709" width="48" height="11" rx="5.5"/><rect class="iy" x="522" y="711.5" width="42" height="6" rx="3"/><text class="lb cy" x="543" y="705">6</text></g>
<g id="B-os-7"><rect class="o oy" x="578" y="709" width="44" height="11" rx="5.5"/><rect class="iy" x="581" y="711.5" width="38" height="6" rx="3"/><text class="lb cy" x="600" y="705">7</text></g>
<g id="B-os-8"><rect class="o oy" x="633" y="709" width="45" height="11" rx="5.5"/><rect class="iy" x="636" y="711.5" width="39" height="6" rx="3"/><text class="lb cy" x="655.5" y="705">8</text></g>
<g id="B-os-9"><rect class="o oy" x="688" y="709" width="34" height="11" rx="5.5"/><rect class="iy" x="691" y="711.5" width="28" height="6" rx="3"/><text class="lb cy" x="705" y="705">9</text></g>
<g id="B-os-10"><rect class="o oy" x="733" y="709" width="34" height="11" rx="5.5"/><rect class="iy" x="736" y="711.5" width="28" height="6" rx="3"/><text class="lb cy" x="750" y="705">10</text></g>
<g id="B-os-11"><rect class="o oy" x="778" y="709" width="44" height="11" rx="5.5"/><rect class="iy" x="781" y="711.5" width="38" height="6" rx="3"/><text class="lb cy" x="800" y="705">11</text></g>
<g id="B-os-12"><rect class="o oy" x="833" y="709" width="42" height="11" rx="5.5"/><rect class="iy" x="836" y="711.5" width="36" height="6" rx="3"/><text class="lb cy" x="854" y="705">12</text></g>

<!-- Panel D: Solanum -->
<g id="D-sl-Ch01"><rect class="o os" x="1075" y="479" width="64" height="11" rx="5.5"/><rect class="is" x="1078" y="481.5" width="58" height="6" rx="3"/><text class="lc cs" x="1107" y="476">Ch01</text></g>
<g id="D-sl-Ch02"><rect class="o os" x="1151" y="479" width="38" height="11" rx="5.5"/><rect class="is" x="1154" y="481.5" width="32" height="6" rx="3"/><text class="lc cs" x="1170" y="476">Ch02</text></g>
<g id="D-sl-Ch03"><rect class="o os" x="1201" y="479" width="46" height="11" rx="5.5"/><rect class="is" x="1204" y="481.5" width="40" height="6" rx="3"/><text class="lc cs" x="1224" y="476">Ch03</text></g>
<g id="D-sl-Ch04"><rect class="o os" x="1259" y="479" width="46" height="11" rx="5.5"/><rect class="is" x="1262" y="481.5" width="40" height="6" rx="3"/><text class="lc cs" x="1282" y="476">Ch04</text></g>
<g id="D-sl-Ch05"><rect class="o os" x="1317" y="479" width="47" height="11" rx="5.5"/><rect class="is" x="1320" y="481.5" width="41" height="6" rx="3"/><text class="lc cs" x="1340.5" y="476">Ch05</text></g>
<g id="D-sl-Ch06"><rect class="o os" x="1375" y="479" width="33" height="11" rx="5.5"/><rect class="is" x="1378" y="481.5" width="27" height="6" rx="3"/><text class="lc cs" x="1391.5" y="476">Ch06</text></g>
<g id="D-sl-Ch07"><rect class="o os" x="1420" y="479" width="49" height="11" rx="5.5"/><rect class="is" x="1423" y="481.5" width="43" height="6" rx="3"/><text class="lc cs" x="1444.5" y="476">Ch07</text></g>
<g id="D-sl-Ch08"><rect class="o os" x="1481" y="479" width="46" height="11" rx="5.5"/><rect class="is" x="1484" y="481.5" width="40" height="6" rx="3"/><text class="lc cs" x="1504" y="476">Ch08</text></g>
<g id="D-sl-Ch09"><rect class="o os" x="1538" y="479" width="49" height="11" rx="5.5"/><rect class="is" x="1541" y="481.5" width="43" height="6" rx="3"/><text class="lc cs" x="1562.5" y="476">Ch09</text></g>
<g id="D-sl-Ch10"><rect class="o os" x="1598" y="479" width="47" height="11" rx="5.5"/><rect class="is" x="1601" y="481.5" width="41" height="6" rx="3"/><text class="lc cs" x="1621.5" y="476">Ch10</text></g>
<g id="D-sl-Ch11"><rect class="o os" x="1657" y="479" width="39" height="11" rx="5.5"/><rect class="is" x="1660" y="481.5" width="33" height="6" rx="3"/><text class="lc cs" x="1676.5" y="476">Ch11</text></g>
<g id="D-sl-Ch12"><rect class="o os" x="1707" y="479" width="48" height="11" rx="5.5"/><rect class="is" x="1710" y="481.5" width="42" height="6" rx="3"/><text class="lc cs" x="1731" y="476">Ch12</text></g>

<!-- Panel D: batatas -->
<g id="D-bt-LG1"><rect class="o ob" x="1075" y="590" width="33" height="11" rx="5.5"/><rect class="ib" x="1078" y="592.5" width="27" height="6" rx="3"/><text class="lb cb" x="1091.5" y="587">LG1</text></g>
<g id="D-bt-LG2"><rect class="o ob" x="1120" y="590" width="42" height="11" rx="5.5"/><rect class="ib" x="1123" y="592.5" width="36" height="6" rx="3"/><text class="lb cb" x="1141" y="587">LG2</text></g>
<g id="D-bt-LG3"><rect class="o ob" x="1173" y="590" width="28" height="11" rx="5.5"/><rect class="ib" x="1176" y="592.5" width="22" height="6" rx="3"/><text class="lb cb" x="1187" y="587">LG3</text></g>
<g id="D-bt-LG4"><rect class="o ob" x="1212" y="590" width="34" height="11" rx="5.5"/><rect class="ib" x="1215" y="592.5" width="28" height="6" rx="3"/><text class="lb cb" x="1229" y="587">LG4</text></g>
<g id="D-bt-LG5"><rect class="o ob" x="1257" y="590" width="35" height="11" rx="5.5"/><rect class="ib" x="1260" y="592.5" width="29" height="6" rx="3"/><text class="lb cb" x="1274.5" y="587">LG5</text></g>
<g id="D-bt-LG6"><rect class="o ob" x="1302" y="590" width="36" height="11" rx="5.5"/><rect class="ib" x="1305" y="592.5" width="30" height="6" rx="3"/><text class="lb cb" x="1320" y="587">LG6</text></g>
<g id="D-bt-LG7"><rect class="o ob" x="1349" y="590" width="40" height="11" rx="5.5"/><rect class="ib" x="1352" y="592.5" width="34" height="6" rx="3"/><text class="lb cb" x="1369" y="587">LG7</text></g>
<g id="D-bt-LG8"><rect class="o ob" x="1400" y="590" width="30" height="11" rx="5.5"/><rect class="ib" x="1403" y="592.5" width="24" height="6" rx="3"/><text class="lb cb" x="1415" y="587">LG8</text></g>
<g id="D-bt-LG9"><rect class="o ob" x="1442" y="590" width="34" height="11" rx="5.5"/><rect class="ib" x="1445" y="592.5" width="28" height="6" rx="3"/><text class="lb cb" x="1459" y="587">LG9</text></g>
<g id="D-bt-LG10"><rect class="o ob" x="1488" y="590" width="25" height="11" rx="5.5"/><rect class="ib" x="1491" y="592.5" width="19" height="6" rx="3"/><text class="lb cb" x="1500.5" y="587">LG10</text></g>
<g id="D-bt-LG11"><rect class="o ob" x="1526" y="590" width="45" height="11" rx="5.5"/><rect class="ib" x="1529" y="592.5" width="39" height="6" rx="3"/><text class="lb cb" x="1548.5" y="587">LG11</text></g>
<g id="D-bt-LG12"><rect class="o ob" x="1582" y="590" width="36" height="11" rx="5.5"/><rect class="ib" x="1585" y="592.5" width="30" height="6" rx="3"/><text class="lb cb" x="1600" y="587">LG12</text></g>
<g id="D-bt-LG13"><rect class="o ob" x="1629" y="590" width="33" height="11" rx="5.5"/><rect class="ib" x="1632" y="592.5" width="27" height="6" rx="3"/><text class="lb cb" x="1645.5" y="587">LG13</text></g>
<g id="D-bt-LG14"><rect class="o ob" x="1673" y="590" width="35" height="11" rx="5.5"/><rect class="ib" x="1676" y="592.5" width="29" height="6" rx="3"/><text class="lb cb" x="1690.5" y="587">LG14</text></g>
<g id="D-bt-LG15"><rect class="o ob" x="1719" y="590" width="36" height="11" rx="5.5"/><rect class="ib" x="1722" y="592.5" width="30" height="6" rx="3"/><text class="lb cb" x="1737" y="587">LG15</text></g>

<!-- Panel D: Capsicum -->
<g id="D-ca-1"><rect class="o oc" x="1074" y="701" width="59" height="11" rx="5.5"/><rect class="ic" x="1077" y="703.5" width="53" height="6" rx="3"/><text class="lb cc" x="1103.5" y="697">1</text></g>
<g id="D-ca-2"><rect class="o oc" x="1144" y="701" width="33" height="11" rx="5.5"/><rect class="ic" x="1147" y="703.5" width="27" height="6" rx="3"/><text class="lb cc" x="1160.5" y="697">2</text></g>
<g id="D-ca-3"><rect class="o oc" x="1188" y="701" width="55" height="11" rx="5.5"/><rect class="ic" x="1191" y="703.5" width="49" height="6" rx="3"/><text class="lb cc" x="1215.5" y="697">3</text></g>
<g id="D-ca-4"><rect class="o oc" x="1254" y="701" width="46" height="11" rx="5.5"/><rect class="ic" x="1257" y="703.5" width="40" height="6" rx="3"/><text class="lb cc" x="1277" y="697">4</text></g>
<g id="D-ca-5"><rect class="o oc" x="1312" y="701" width="45" height="11" rx="5.5"/><rect class="ic" x="1315" y="703.5" width="39" height="6" rx="3"/><text class="lb cc" x="1334.5" y="697">5</text></g>
<g id="D-ca-6"><rect class="o oc" x="1369" y="701" width="46" height="11" rx="5.5"/><rect class="ic" x="1372" y="703.5" width="40" height="6" rx="3"/><text class="lb cc" x="1392" y="697">6</text></g>
<g id="D-ca-7"><rect class="o oc" x="1427" y="701" width="47" height="11" rx="5.5"/><rect class="ic" x="1430" y="703.5" width="41" height="6" rx="3"/><text class="lb cc" x="1450.5" y="697">7</text></g>
<g id="D-ca-8"><rect class="o oc" x="1486" y="701" width="27" height="11" rx="5.5"/><rect class="ic" x="1489" y="703.5" width="21" height="6" rx="3"/><text class="lb cc" x="1499.5" y="697">8</text></g>
<g id="D-ca-9"><rect class="o oc" x="1525" y="701" width="52" height="11" rx="5.5"/><rect class="ic" x="1528" y="703.5" width="46" height="6" rx="3"/><text class="lb cc" x="1551" y="697">9</text></g>
<g id="D-ca-10"><rect class="o oc" x="1588" y="701" width="45" height="11" rx="5.5"/><rect class="ic" x="1591" y="703.5" width="39" height="6" rx="3"/><text class="lb cc" x="1610.5" y="697">10</text></g>
<g id="D-ca-11"><rect class="o oc" x="1644" y="701" width="52" height="11" rx="5.5"/><rect class="ic" x="1647" y="703.5" width="46" height="6" rx="3"/><text class="lb cc" x="1670" y="697">11</text></g>
<g id="D-ca-12"><rect class="o oc" x="1707" y="701" width="48" height="11" rx="5.5"/><rect class="ic" x="1710" y="703.5" width="42" height="6" rx="3"/><text class="lb cc" x="1731" y="697">12</text></g>
</svg>
